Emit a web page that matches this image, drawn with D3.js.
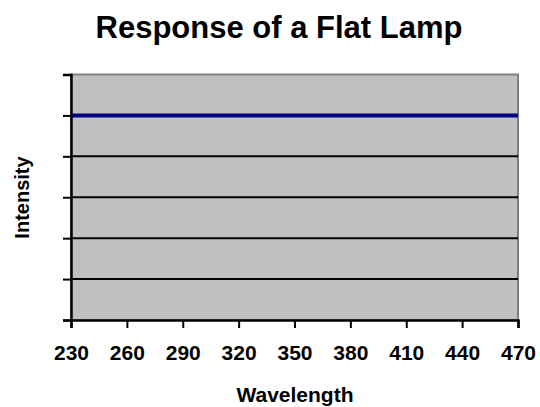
<!DOCTYPE html>
<html>
<head>
<meta charset="utf-8">
<script src="https://cdn.jsdelivr.net/npm/d3@7"></script>
<style>
  html, body { margin: 0; padding: 0; background: #fff; }
  text { font-family: Arial, "Liberation Sans", sans-serif; font-weight: bold; fill: #000; }
</style>
</head>
<body>
<svg id="chart" width="540" height="407"></svg>
<script>
// Wavelength samples and the flat lamp's relative intensity
const wavelengths = [230, 260, 290, 320, 350, 380, 410, 440, 470];
const intensity   = [1, 1, 1, 1, 1, 1, 1, 1, 1];
const xTicks = [230, 260, 290, 320, 350, 380, 410, 440, 470];
const yTicks = [0, 0.2, 0.4, 0.6, 0.8, 1.0, 1.2];

const svg = d3.select("#chart");
const margin = { left: 71, right: 22, top: 74.5, bottom: 87 };
const W = 540, H = 407;
const iw = W - margin.left - margin.right;
const ih = H - margin.top - margin.bottom;

const x = d3.scaleLinear().domain([230, 470]).range([0, iw]);
const y = d3.scaleLinear().domain([0, 1.2]).range([ih, 0]);

const g = svg.append("g").attr("transform", `translate(${margin.left},${margin.top})`);

// plot background with grey frame
g.append("rect")
  .attr("x", 0).attr("y", 0).attr("width", iw).attr("height", ih)
  .attr("fill", "#C0C0C0").attr("stroke", "#808080").attr("stroke-width", 2);

// horizontal gridlines
g.selectAll("line.grid")
  .data(yTicks.filter(v => v > 0 && v < 1.2))
  .join("line")
  .attr("class", "grid")
  .attr("x1", 0).attr("x2", iw)
  .attr("y1", d => y(d)).attr("y2", d => y(d))
  .attr("stroke", "#000").attr("stroke-width", 2);

// y axis: ticks only, no labels
const yAxis = g.append("g")
  .call(d3.axisLeft(y).tickValues(yTicks).tickSize(8).tickFormat(""));
yAxis.select(".domain").attr("stroke", "#000").attr("stroke-width", 2.5);
yAxis.selectAll(".tick line").attr("stroke", "#000").attr("stroke-width", 2);

// x axis
const xAxis = g.append("g")
  .attr("transform", `translate(0,${ih})`)
  .call(d3.axisBottom(x).tickValues(xTicks).tickSize(8).tickPadding(17).tickFormat(d3.format("d")));
xAxis.select(".domain").attr("stroke", "#000").attr("stroke-width", 2.5);
xAxis.selectAll(".tick line").attr("stroke", "#000").attr("stroke-width", 2);
xAxis.selectAll(".tick text")
  .style("font-family", "Arial, 'Liberation Sans', sans-serif")
  .style("font-weight", "bold").style("font-size", "21px").attr("fill", "#000");

// intensity line
const line = d3.line().x((d, i) => x(wavelengths[i])).y(d => y(d));
g.append("path")
  .datum(intensity)
  .attr("d", line)
  .attr("fill", "none")
  .attr("stroke", "#000080")
  .attr("stroke-width", 4);

// titles
svg.append("text")
  .attr("x", 279).attr("y", 38)
  .attr("text-anchor", "middle")
  .style("font-size", "31px")
  .text("Response of a Flat Lamp");

svg.append("text")
  .attr("x", 295).attr("y", 402)
  .attr("text-anchor", "middle")
  .style("font-size", "21px")
  .text("Wavelength");

svg.append("text")
  .attr("transform", "translate(29,197.5) rotate(-90)")
  .attr("text-anchor", "middle")
  .style("font-size", "20px")
  .text("Intensity");
</script>
</body>
</html>
